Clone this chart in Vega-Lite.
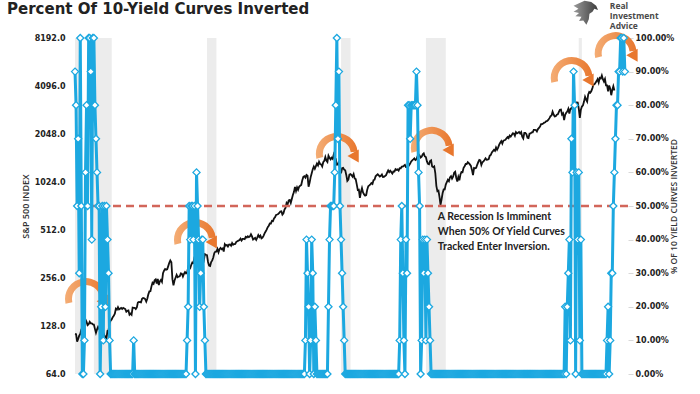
{
"$schema": "https://vega.github.io/schema/vega-lite/v6.json",
"width": 558, "height": 336,
"autosize": {"type": "none"},
"padding": {"left": 70, "top": 38, "right": 72, "bottom": 20},
"background": "white",
"config": {"view": {"stroke": null}},
"datasets": {
"m": [
{"t":1980,"s":114.2,"p":90},{"t":1980.083,"s":113.7,"p":80},{"t":1980.167,"s":102.1,"p":50},{"t":1980.25,"s":106.3,"p":70},{"t":1980.333,"s":111.2,"p":30},{"t":1980.417,"s":114.2,"p":100},{"t":1980.5,"s":121.7,"p":50},{"t":1980.583,"s":122.4,"p":0},{"t":1980.667,"s":125.5,"p":0},{"t":1980.75,"s":127.5,"p":10},{"t":1980.833,"s":140.5,"p":60},{"t":1980.917,"s":135.8,"p":80},
{"t":1981,"s":129.6,"p":50},{"t":1981.083,"s":131.3,"p":100},{"t":1981.167,"s":136.0,"p":100},{"t":1981.25,"s":133.0,"p":90},{"t":1981.333,"s":133.0,"p":40},{"t":1981.417,"s":131.2,"p":100},{"t":1981.5,"s":130.9,"p":100},{"t":1981.583,"s":122.8,"p":80},{"t":1981.667,"s":116.2,"p":70},{"t":1981.75,"s":121.9,"p":60},{"t":1981.833,"s":126.4,"p":50},{"t":1981.917,"s":122.6,"p":50},
{"t":1982,"s":120.4,"p":0},{"t":1982.083,"s":113.1,"p":20},{"t":1982.167,"s":112.0,"p":50},{"t":1982.25,"s":116.4,"p":10},{"t":1982.333,"s":111.9,"p":50},{"t":1982.417,"s":109.6,"p":20},{"t":1982.5,"s":107.1,"p":50},{"t":1982.583,"s":119.5,"p":40},{"t":1982.667,"s":120.4,"p":30},{"t":1982.75,"s":133.7,"p":10},{"t":1982.833,"s":138.5,"p":0},{"t":1982.917,"s":140.6,"p":0},
{"t":1983,"s":145.3,"p":0},{"t":1983.083,"s":148.1,"p":0},{"t":1983.167,"s":153.0,"p":0},{"t":1983.25,"s":164.4,"p":0},{"t":1983.333,"s":162.4,"p":0},{"t":1983.417,"s":168.1,"p":0},{"t":1983.5,"s":162.6,"p":0},{"t":1983.583,"s":164.4,"p":0},{"t":1983.667,"s":166.1,"p":0},{"t":1983.75,"s":163.6,"p":0},{"t":1983.833,"s":166.4,"p":0},{"t":1983.917,"s":164.9,"p":0},
{"t":1984,"s":163.4,"p":0},{"t":1984.083,"s":157.1,"p":0},{"t":1984.167,"s":159.2,"p":0},{"t":1984.25,"s":160.1,"p":0},{"t":1984.333,"s":150.6,"p":0},{"t":1984.417,"s":153.2,"p":0},{"t":1984.5,"s":150.7,"p":0},{"t":1984.583,"s":166.7,"p":0},{"t":1984.667,"s":166.1,"p":10},{"t":1984.75,"s":166.1,"p":0},{"t":1984.833,"s":163.6,"p":0},{"t":1984.917,"s":167.2,"p":0},
{"t":1985,"s":179.6,"p":0},{"t":1985.083,"s":181.2,"p":0},{"t":1985.167,"s":180.7,"p":0},{"t":1985.25,"s":179.8,"p":0},{"t":1985.333,"s":189.6,"p":0},{"t":1985.417,"s":191.9,"p":0},{"t":1985.5,"s":190.9,"p":0},{"t":1985.583,"s":188.6,"p":0},{"t":1985.667,"s":182.1,"p":0},{"t":1985.75,"s":189.8,"p":0},{"t":1985.833,"s":202.2,"p":0},{"t":1985.917,"s":211.3,"p":0},
{"t":1986,"s":211.8,"p":0},{"t":1986.083,"s":226.9,"p":0},{"t":1986.167,"s":238.9,"p":0},{"t":1986.25,"s":235.5,"p":0},{"t":1986.333,"s":247.4,"p":0},{"t":1986.417,"s":250.8,"p":0},{"t":1986.5,"s":236.1,"p":0},{"t":1986.583,"s":252.9,"p":0},{"t":1986.667,"s":231.3,"p":0},{"t":1986.75,"s":244.0,"p":0},{"t":1986.833,"s":249.2,"p":0},{"t":1986.917,"s":242.2,"p":0},
{"t":1987,"s":274.1,"p":0},{"t":1987.083,"s":284.2,"p":0},{"t":1987.167,"s":291.7,"p":0},{"t":1987.25,"s":288.4,"p":0},{"t":1987.333,"s":290.1,"p":0},{"t":1987.417,"s":304.0,"p":0},{"t":1987.5,"s":318.7,"p":0},{"t":1987.583,"s":329.8,"p":0},{"t":1987.667,"s":321.8,"p":0},{"t":1987.75,"s":251.8,"p":0},{"t":1987.833,"s":230.3,"p":0},{"t":1987.917,"s":247.1,"p":0},
{"t":1988,"s":257.1,"p":0},{"t":1988.083,"s":267.8,"p":0},{"t":1988.167,"s":258.9,"p":0},{"t":1988.25,"s":261.3,"p":0},{"t":1988.333,"s":262.2,"p":0},{"t":1988.417,"s":273.5,"p":0},{"t":1988.5,"s":272.0,"p":0},{"t":1988.583,"s":261.5,"p":0},{"t":1988.667,"s":271.9,"p":0},{"t":1988.75,"s":279.0,"p":0},{"t":1988.833,"s":273.7,"p":0},{"t":1988.917,"s":277.7,"p":10},
{"t":1989,"s":297.5,"p":20},{"t":1989.083,"s":288.9,"p":50},{"t":1989.167,"s":294.9,"p":40},{"t":1989.25,"s":309.6,"p":50},{"t":1989.333,"s":320.5,"p":50},{"t":1989.417,"s":318.0,"p":40},{"t":1989.5,"s":346.1,"p":50},{"t":1989.583,"s":351.5,"p":0},{"t":1989.667,"s":349.2,"p":60},{"t":1989.75,"s":340.4,"p":50},{"t":1989.833,"s":346.0,"p":40},{"t":1989.917,"s":353.4,"p":20},
{"t":1990,"s":329.1,"p":30},{"t":1990.083,"s":331.9,"p":40},{"t":1990.167,"s":339.9,"p":40},{"t":1990.25,"s":330.8,"p":20},{"t":1990.333,"s":361.2,"p":10},{"t":1990.417,"s":358.0,"p":0},{"t":1990.5,"s":356.2,"p":0},{"t":1990.583,"s":322.6,"p":0},{"t":1990.667,"s":306.1,"p":0},{"t":1990.75,"s":304.0,"p":0},{"t":1990.833,"s":322.2,"p":0},{"t":1990.917,"s":330.2,"p":0},
{"t":1991,"s":343.9,"p":0},{"t":1991.083,"s":367.1,"p":0},{"t":1991.167,"s":375.2,"p":0},{"t":1991.25,"s":375.3,"p":0},{"t":1991.333,"s":389.8,"p":0},{"t":1991.417,"s":371.2,"p":0},{"t":1991.5,"s":387.8,"p":0},{"t":1991.583,"s":395.4,"p":0},{"t":1991.667,"s":387.9,"p":0},{"t":1991.75,"s":392.5,"p":0},{"t":1991.833,"s":375.2,"p":0},{"t":1991.917,"s":417.1,"p":0},
{"t":1992,"s":408.8,"p":0},{"t":1992.083,"s":412.7,"p":0},{"t":1992.167,"s":403.7,"p":0},{"t":1992.25,"s":415.0,"p":0},{"t":1992.333,"s":415.4,"p":0},{"t":1992.417,"s":408.1,"p":0},{"t":1992.5,"s":424.2,"p":0},{"t":1992.583,"s":414.0,"p":0},{"t":1992.667,"s":417.8,"p":0},{"t":1992.75,"s":418.7,"p":0},{"t":1992.833,"s":431.4,"p":0},{"t":1992.917,"s":435.7,"p":0},
{"t":1993,"s":438.8,"p":0},{"t":1993.083,"s":443.4,"p":0},{"t":1993.167,"s":451.7,"p":0},{"t":1993.25,"s":440.2,"p":0},{"t":1993.333,"s":450.2,"p":0},{"t":1993.417,"s":450.5,"p":0},{"t":1993.5,"s":448.1,"p":0},{"t":1993.583,"s":463.6,"p":0},{"t":1993.667,"s":458.9,"p":0},{"t":1993.75,"s":467.8,"p":0},{"t":1993.833,"s":461.8,"p":0},{"t":1993.917,"s":466.5,"p":0},
{"t":1994,"s":481.6,"p":0},{"t":1994.083,"s":467.1,"p":0},{"t":1994.167,"s":445.8,"p":0},{"t":1994.25,"s":450.9,"p":0},{"t":1994.333,"s":456.5,"p":0},{"t":1994.417,"s":444.3,"p":0},{"t":1994.5,"s":458.3,"p":0},{"t":1994.583,"s":475.5,"p":0},{"t":1994.667,"s":462.7,"p":0},{"t":1994.75,"s":472.4,"p":0},{"t":1994.833,"s":453.7,"p":0},{"t":1994.917,"s":459.3,"p":0},
{"t":1995,"s":470.4,"p":0},{"t":1995.083,"s":487.4,"p":0},{"t":1995.167,"s":500.7,"p":0},{"t":1995.25,"s":514.7,"p":0},{"t":1995.333,"s":533.4,"p":0},{"t":1995.417,"s":544.8,"p":0},{"t":1995.5,"s":562.1,"p":0},{"t":1995.583,"s":561.9,"p":0},{"t":1995.667,"s":584.4,"p":0},{"t":1995.75,"s":581.5,"p":0},{"t":1995.833,"s":605.4,"p":0},{"t":1995.917,"s":615.9,"p":0},
{"t":1996,"s":636.0,"p":0},{"t":1996.083,"s":640.4,"p":0},{"t":1996.167,"s":645.5,"p":0},{"t":1996.25,"s":654.2,"p":0},{"t":1996.333,"s":669.1,"p":0},{"t":1996.417,"s":670.6,"p":0},{"t":1996.5,"s":640.0,"p":0},{"t":1996.583,"s":652.0,"p":0},{"t":1996.667,"s":687.3,"p":0},{"t":1996.75,"s":705.3,"p":0},{"t":1996.833,"s":757.0,"p":0},{"t":1996.917,"s":740.7,"p":0},
{"t":1997,"s":786.2,"p":0},{"t":1997.083,"s":790.8,"p":0},{"t":1997.167,"s":757.1,"p":0},{"t":1997.25,"s":801.3,"p":0},{"t":1997.333,"s":848.3,"p":0},{"t":1997.417,"s":885.1,"p":0},{"t":1997.5,"s":954.3,"p":0},{"t":1997.583,"s":899.5,"p":0},{"t":1997.667,"s":947.3,"p":0},{"t":1997.75,"s":914.6,"p":0},{"t":1997.833,"s":955.4,"p":0},{"t":1997.917,"s":970.4,"p":0},
{"t":1998,"s":980.3,"p":0},{"t":1998.083,"s":1049.3,"p":0},{"t":1998.167,"s":1101.8,"p":0},{"t":1998.25,"s":1111.8,"p":0},{"t":1998.333,"s":1090.8,"p":10},{"t":1998.417,"s":1133.8,"p":40},{"t":1998.5,"s":1120.7,"p":30},{"t":1998.583,"s":957.3,"p":20},{"t":1998.667,"s":1017.0,"p":0},{"t":1998.75,"s":1098.7,"p":10},{"t":1998.833,"s":1163.6,"p":40},{"t":1998.917,"s":1229.2,"p":30},
{"t":1999,"s":1279.6,"p":0},{"t":1999.083,"s":1238.3,"p":20},{"t":1999.167,"s":1286.4,"p":10},{"t":1999.25,"s":1335.2,"p":0},{"t":1999.333,"s":1301.8,"p":0},{"t":1999.417,"s":1372.7,"p":0},{"t":1999.5,"s":1328.7,"p":0},{"t":1999.583,"s":1320.4,"p":0},{"t":1999.667,"s":1282.7,"p":0},{"t":1999.75,"s":1362.9,"p":0},{"t":1999.833,"s":1388.9,"p":0},{"t":1999.917,"s":1469.3,"p":0},
{"t":2000,"s":1394.5,"p":0},{"t":2000.083,"s":1366.4,"p":0},{"t":2000.167,"s":1498.6,"p":20},{"t":2000.25,"s":1452.4,"p":40},{"t":2000.333,"s":1420.6,"p":50},{"t":2000.417,"s":1454.6,"p":50},{"t":2000.5,"s":1430.8,"p":50},{"t":2000.583,"s":1517.7,"p":50},{"t":2000.667,"s":1436.5,"p":60},{"t":2000.75,"s":1429.4,"p":80},{"t":2000.833,"s":1315.2,"p":100},{"t":2000.917,"s":1320.3,"p":70},
{"t":2001,"s":1366.0,"p":90},{"t":2001.083,"s":1239.9,"p":50},{"t":2001.167,"s":1160.3,"p":40},{"t":2001.25,"s":1249.5,"p":30},{"t":2001.333,"s":1255.8,"p":20},{"t":2001.417,"s":1224.4,"p":10},{"t":2001.5,"s":1211.2,"p":0},{"t":2001.583,"s":1133.6,"p":0},{"t":2001.667,"s":1040.9,"p":0},{"t":2001.75,"s":1059.8,"p":0},{"t":2001.833,"s":1139.5,"p":0},{"t":2001.917,"s":1148.1,"p":0},
{"t":2002,"s":1130.2,"p":0},{"t":2002.083,"s":1106.7,"p":0},{"t":2002.167,"s":1147.4,"p":0},{"t":2002.25,"s":1076.9,"p":0},{"t":2002.333,"s":1067.1,"p":0},{"t":2002.417,"s":989.8,"p":0},{"t":2002.5,"s":911.6,"p":0},{"t":2002.583,"s":916.1,"p":0},{"t":2002.667,"s":815.3,"p":0},{"t":2002.75,"s":885.8,"p":0},{"t":2002.833,"s":936.3,"p":0},{"t":2002.917,"s":879.8,"p":0},
{"t":2003,"s":855.7,"p":0},{"t":2003.083,"s":841.2,"p":0},{"t":2003.167,"s":848.2,"p":0},{"t":2003.25,"s":916.9,"p":0},{"t":2003.333,"s":963.6,"p":0},{"t":2003.417,"s":974.5,"p":0},{"t":2003.5,"s":990.3,"p":0},{"t":2003.583,"s":1008.0,"p":0},{"t":2003.667,"s":996.0,"p":0},{"t":2003.75,"s":1050.7,"p":0},{"t":2003.833,"s":1058.2,"p":0},{"t":2003.917,"s":1111.9,"p":0},
{"t":2004,"s":1131.1,"p":0},{"t":2004.083,"s":1144.9,"p":0},{"t":2004.167,"s":1126.2,"p":0},{"t":2004.25,"s":1107.3,"p":0},{"t":2004.333,"s":1120.7,"p":0},{"t":2004.417,"s":1140.8,"p":0},{"t":2004.5,"s":1101.7,"p":0},{"t":2004.583,"s":1104.2,"p":0},{"t":2004.667,"s":1114.6,"p":0},{"t":2004.75,"s":1130.2,"p":0},{"t":2004.833,"s":1173.8,"p":0},{"t":2004.917,"s":1211.9,"p":0},
{"t":2005,"s":1181.3,"p":0},{"t":2005.083,"s":1203.6,"p":0},{"t":2005.167,"s":1180.6,"p":0},{"t":2005.25,"s":1156.9,"p":0},{"t":2005.333,"s":1191.5,"p":0},{"t":2005.417,"s":1191.3,"p":0},{"t":2005.5,"s":1234.2,"p":0},{"t":2005.583,"s":1220.3,"p":0},{"t":2005.667,"s":1228.8,"p":0},{"t":2005.75,"s":1207.0,"p":0},{"t":2005.833,"s":1249.5,"p":10},{"t":2005.917,"s":1248.3,"p":40},
{"t":2006,"s":1280.1,"p":50},{"t":2006.083,"s":1280.7,"p":30},{"t":2006.167,"s":1294.9,"p":10},{"t":2006.25,"s":1310.6,"p":0},{"t":2006.333,"s":1270.1,"p":40},{"t":2006.417,"s":1270.2,"p":30},{"t":2006.5,"s":1276.7,"p":80},{"t":2006.583,"s":1303.8,"p":80},{"t":2006.667,"s":1335.9,"p":70},{"t":2006.75,"s":1377.9,"p":80},{"t":2006.833,"s":1400.6,"p":80},{"t":2006.917,"s":1418.3,"p":80},
{"t":2007,"s":1438.2,"p":80},{"t":2007.083,"s":1406.8,"p":80},{"t":2007.167,"s":1420.9,"p":90},{"t":2007.25,"s":1482.4,"p":80},{"t":2007.333,"s":1530.6,"p":60},{"t":2007.417,"s":1503.4,"p":50},{"t":2007.5,"s":1455.3,"p":0},{"t":2007.583,"s":1474.0,"p":10},{"t":2007.667,"s":1526.8,"p":40},{"t":2007.75,"s":1549.4,"p":30},{"t":2007.833,"s":1481.1,"p":40},{"t":2007.917,"s":1468.4,"p":10},
{"t":2008,"s":1378.6,"p":40},{"t":2008.083,"s":1330.6,"p":30},{"t":2008.167,"s":1322.7,"p":20},{"t":2008.25,"s":1385.6,"p":10},{"t":2008.333,"s":1400.4,"p":0},{"t":2008.417,"s":1280.0,"p":0},{"t":2008.5,"s":1267.4,"p":0},{"t":2008.583,"s":1282.8,"p":0},{"t":2008.667,"s":1166.4,"p":0},{"t":2008.75,"s":968.8,"p":0},{"t":2008.833,"s":896.2,"p":0},{"t":2008.917,"s":903.3,"p":0},
{"t":2009,"s":825.9,"p":0},{"t":2009.083,"s":735.1,"p":0},{"t":2009.167,"s":797.9,"p":0},{"t":2009.25,"s":872.8,"p":0},{"t":2009.333,"s":919.1,"p":0},{"t":2009.417,"s":919.3,"p":0},{"t":2009.5,"s":987.5,"p":0},{"t":2009.583,"s":1020.6,"p":0},{"t":2009.667,"s":1057.1,"p":0},{"t":2009.75,"s":1036.2,"p":0},{"t":2009.833,"s":1095.6,"p":0},{"t":2009.917,"s":1115.1,"p":0},
{"t":2010,"s":1073.9,"p":0},{"t":2010.083,"s":1104.5,"p":0},{"t":2010.167,"s":1169.4,"p":0},{"t":2010.25,"s":1186.7,"p":0},{"t":2010.333,"s":1089.4,"p":0},{"t":2010.417,"s":1030.7,"p":0},{"t":2010.5,"s":1101.6,"p":0},{"t":2010.583,"s":1049.3,"p":0},{"t":2010.667,"s":1141.2,"p":0},{"t":2010.75,"s":1183.3,"p":0},{"t":2010.833,"s":1180.6,"p":0},{"t":2010.917,"s":1257.6,"p":0},
{"t":2011,"s":1286.1,"p":0},{"t":2011.083,"s":1327.2,"p":0},{"t":2011.167,"s":1325.8,"p":0},{"t":2011.25,"s":1363.6,"p":0},{"t":2011.333,"s":1345.2,"p":0},{"t":2011.417,"s":1320.6,"p":0},{"t":2011.5,"s":1292.3,"p":0},{"t":2011.583,"s":1218.9,"p":0},{"t":2011.667,"s":1131.4,"p":0},{"t":2011.75,"s":1253.3,"p":0},{"t":2011.833,"s":1247.0,"p":0},{"t":2011.917,"s":1257.6,"p":0},
{"t":2012,"s":1312.4,"p":0},{"t":2012.083,"s":1365.7,"p":0},{"t":2012.167,"s":1408.5,"p":0},{"t":2012.25,"s":1397.9,"p":0},{"t":2012.333,"s":1310.3,"p":0},{"t":2012.417,"s":1362.2,"p":0},{"t":2012.5,"s":1379.3,"p":0},{"t":2012.583,"s":1406.6,"p":0},{"t":2012.667,"s":1440.7,"p":0},{"t":2012.75,"s":1412.2,"p":0},{"t":2012.833,"s":1416.2,"p":0},{"t":2012.917,"s":1426.2,"p":0},
{"t":2013,"s":1498.1,"p":0},{"t":2013.083,"s":1514.7,"p":0},{"t":2013.167,"s":1569.2,"p":0},{"t":2013.25,"s":1597.6,"p":0},{"t":2013.333,"s":1630.7,"p":0},{"t":2013.417,"s":1606.3,"p":0},{"t":2013.5,"s":1685.7,"p":0},{"t":2013.583,"s":1633.0,"p":0},{"t":2013.667,"s":1681.6,"p":0},{"t":2013.75,"s":1756.5,"p":0},{"t":2013.833,"s":1805.8,"p":0},{"t":2013.917,"s":1848.4,"p":0},
{"t":2014,"s":1782.6,"p":0},{"t":2014.083,"s":1859.5,"p":0},{"t":2014.167,"s":1872.3,"p":0},{"t":2014.25,"s":1884.0,"p":0},{"t":2014.333,"s":1923.6,"p":0},{"t":2014.417,"s":1960.2,"p":0},{"t":2014.5,"s":1930.7,"p":0},{"t":2014.583,"s":2003.4,"p":0},{"t":2014.667,"s":1972.3,"p":0},{"t":2014.75,"s":2018.1,"p":0},{"t":2014.833,"s":2067.6,"p":0},{"t":2014.917,"s":2058.9,"p":0},
{"t":2015,"s":1995.0,"p":0},{"t":2015.083,"s":2104.5,"p":0},{"t":2015.167,"s":2067.9,"p":0},{"t":2015.25,"s":2085.5,"p":0},{"t":2015.333,"s":2107.4,"p":0},{"t":2015.417,"s":2063.1,"p":0},{"t":2015.5,"s":2103.8,"p":0},{"t":2015.583,"s":1972.2,"p":0},{"t":2015.667,"s":1920.0,"p":0},{"t":2015.75,"s":2079.4,"p":0},{"t":2015.833,"s":2080.4,"p":0},{"t":2015.917,"s":2043.9,"p":0},
{"t":2016,"s":1940.2,"p":0},{"t":2016.083,"s":1932.2,"p":0},{"t":2016.167,"s":2059.7,"p":0},{"t":2016.25,"s":2065.3,"p":0},{"t":2016.333,"s":2097.0,"p":0},{"t":2016.417,"s":2098.9,"p":0},{"t":2016.5,"s":2173.6,"p":0},{"t":2016.583,"s":2171.0,"p":0},{"t":2016.667,"s":2168.3,"p":0},{"t":2016.75,"s":2126.2,"p":0},{"t":2016.833,"s":2199.0,"p":0},{"t":2016.917,"s":2238.8,"p":0},
{"t":2017,"s":2278.9,"p":0},{"t":2017.083,"s":2363.6,"p":0},{"t":2017.167,"s":2362.7,"p":0},{"t":2017.25,"s":2384.2,"p":0},{"t":2017.333,"s":2411.8,"p":0},{"t":2017.417,"s":2423.4,"p":0},{"t":2017.5,"s":2470.3,"p":0},{"t":2017.583,"s":2471.7,"p":0},{"t":2017.667,"s":2519.4,"p":0},{"t":2017.75,"s":2575.3,"p":0},{"t":2017.833,"s":2647.6,"p":0},{"t":2017.917,"s":2673.6,"p":0},
{"t":2018,"s":2823.8,"p":0},{"t":2018.083,"s":2713.8,"p":0},{"t":2018.167,"s":2640.9,"p":0},{"t":2018.25,"s":2648.1,"p":0},{"t":2018.333,"s":2705.3,"p":0},{"t":2018.417,"s":2718.4,"p":0},{"t":2018.5,"s":2816.3,"p":0},{"t":2018.583,"s":2901.5,"p":0},{"t":2018.667,"s":2914.0,"p":0},{"t":2018.75,"s":2711.7,"p":0},{"t":2018.833,"s":2760.2,"p":0},{"t":2018.917,"s":2506.9,"p":0},
{"t":2019,"s":2704.1,"p":20},{"t":2019.083,"s":2784.5,"p":0},{"t":2019.167,"s":2834.4,"p":20},{"t":2019.25,"s":2945.8,"p":30},{"t":2019.333,"s":2752.1,"p":40},{"t":2019.417,"s":2941.8,"p":10},{"t":2019.5,"s":2980.4,"p":70},{"t":2019.583,"s":2926.5,"p":60},{"t":2019.667,"s":2976.7,"p":90},{"t":2019.75,"s":3037.6,"p":80},{"t":2019.833,"s":3141.0,"p":0},{"t":2019.917,"s":3230.8,"p":60},
{"t":2020,"s":3225.5,"p":40},{"t":2020.083,"s":2954.2,"p":60},{"t":2020.167,"s":2584.6,"p":10},{"t":2020.25,"s":2912.4,"p":40},{"t":2020.333,"s":3044.3,"p":0},{"t":2020.417,"s":3100.3,"p":0},{"t":2020.5,"s":3271.1,"p":0},{"t":2020.583,"s":3500.3,"p":0},{"t":2020.667,"s":3363.0,"p":0},{"t":2020.75,"s":3270.0,"p":0},{"t":2020.833,"s":3621.6,"p":0},{"t":2020.917,"s":3756.1,"p":0},
{"t":2021,"s":3714.2,"p":0},{"t":2021.083,"s":3811.2,"p":0},{"t":2021.167,"s":3972.9,"p":0},{"t":2021.25,"s":4181.2,"p":0},{"t":2021.333,"s":4204.1,"p":0},{"t":2021.417,"s":4297.5,"p":0},{"t":2021.5,"s":4395.3,"p":0},{"t":2021.583,"s":4522.7,"p":0},{"t":2021.667,"s":4307.5,"p":0},{"t":2021.75,"s":4605.4,"p":0},{"t":2021.833,"s":4567.0,"p":0},{"t":2021.917,"s":4766.2,"p":0},
{"t":2022,"s":4515.6,"p":0},{"t":2022.083,"s":4373.9,"p":0},{"t":2022.167,"s":4530.4,"p":0},{"t":2022.25,"s":4131.9,"p":0},{"t":2022.333,"s":4132.2,"p":10},{"t":2022.417,"s":3785.4,"p":20},{"t":2022.5,"s":4130.3,"p":0},{"t":2022.583,"s":3955.0,"p":10},{"t":2022.667,"s":3585.6,"p":30},{"t":2022.75,"s":3872.0,"p":30},{"t":2022.833,"s":4080.1,"p":50},{"t":2022.917,"s":3839.5,"p":60},
{"t":2023,"p":70},{"t":2023.083,"p":80},{"t":2023.167,"p":80},{"t":2023.25,"p":90},{"t":2023.333,"p":90},{"t":2023.417,"p":100},{"t":2023.5,"p":100},{"t":2023.583,"p":90},{"t":2023.667,"p":100},{"t":2023.75,"p":90}
],
"rec": [
{"t":1980.0,"t2":1980.5},{"t":1981.5,"t2":1982.92},{"t":1990.5,"t2":1991.25},{"t":2001.17,"t2":2001.92},{"t":2007.92,"t2":2009.5},{"t":2020.08,"t2":2020.33}
],
"arc": [
{"t":1980.87,"p":22.3},{"t":1989.54,"p":39.9},{"t":2000.83,"p":65.5},{"t":2008.39,"p":67.3},{"t":2019.52,"p":88.1},{"t":2023.02,"p":95.5}
],
"head": [
{"t":1982.39,"p":21.2},{"t":1991.06,"p":38.8},{"t":2002.35,"p":64.4},{"t":2009.91,"p":66.2},{"t":2021.04,"p":87.0},{"t":2024.54,"p":94.4}
],
"note": [
{"t":2008.87,"p":46.8,"label":"A Recession Is Imminent"},
{"t":2008.87,"p":42.4,"label":"When 50% Of Yield Curves"},
{"t":2008.87,"p":37.9,"label":"Tracked Enter Inversion."}
],
"heading": [
{"t":1974.59,"p":107.14,"label":"Percent Of 10-Yield Curves Inverted"}
],
"logo": [
{"t":2022.55,"p":109.4,"label":"Real"},
{"t":2022.55,"p":106.5,"label":"Investment"},
{"t":2022.55,"p":103.6,"label":"Advice"}
],
"eagle": [
{"t":2020.64,"p":107.6}
]
},
"layer": [
{
"data": {"name": "rec"},
"mark": {"type": "rect", "color": "#ececec"},
"encoding": {
"x": {"field": "t", "type": "quantitative", "scale": {"domain": [1979.6, 2024.0], "nice": false, "zero": false}, "axis": null},
"x2": {"field": "t2"}
}
},
{
"data": {"name": "m"},
"mark": {"type": "line", "color": "#111111", "strokeWidth": 1.8},
"encoding": {
"x": {"field": "t", "type": "quantitative", "scale": {"domain": [1979.6, 2024.0], "nice": false, "zero": false},
"axis": {"title": null, "values": [1980,1984,1988,1992,1996,2000,2004,2008,2012,2016,2020], "format": "d", "domain": false, "ticks": false, "grid": false, "labelFont": "DejaVu Sans", "labelFontWeight": "bold", "labelFontSize": 9, "labelColor": "#222", "labelPadding": 7}},
"y": {"field": "s", "type": "quantitative", "scale": {"type": "log", "base": 2, "domain": [64, 8192], "nice": false},
"axis": {"orient": "left", "values": [64,128,256,512,1024,2048,4096,8192], "format": ".1f", "domain": false, "ticks": false, "grid": false, "labelFont": "DejaVu Sans", "labelFontWeight": "bold", "labelFontSize": 8, "labelColor": "#222", "labelPadding": 5, "title": "S&P 500 INDEX", "titleFont": "Open Sans", "titleFontSize": 9, "titleFontWeight": 600, "titleColor": "#333", "titlePadding": 4}}
}
},
{
"data": {"values": [{}]},
"mark": {"type": "rule", "color": "#d2665a", "strokeWidth": 2.5, "strokeDash": [8, 5]},
"encoding": {"y": {"datum": 50, "type": "quantitative", "scale": {"domain": [0, 100], "nice": false}, "axis": null}}
},
{
"data": {"name": "arc"},
"mark": {"type": "arc", "radius": 21, "radius2": 14, "theta": -1.8, "theta2": 1.45, "color": {"gradient": "linear", "stops": [{"offset": 0, "color": "#f4ad75"}, {"offset": 1, "color": "#e8772e"}]}},
"encoding": {
"x": {"field": "t", "type": "quantitative", "axis": null},
"y": {"field": "p", "type": "quantitative", "scale": {"domain": [0, 100], "nice": false}, "axis": null}
}
},
{
"data": {"name": "head"},
"mark": {"type": "point", "shape": "triangle-down", "filled": true, "size": 170, "angle": -30, "color": "#e8772e", "opacity": 1},
"encoding": {
"x": {"field": "t", "type": "quantitative", "axis": null},
"y": {"field": "p", "type": "quantitative", "scale": {"domain": [0, 100], "nice": false}, "axis": null}
}
},
{
"data": {"name": "m"},
"mark": {"type": "line", "color": "#1ca8e0", "strokeWidth": 3},
"encoding": {
"x": {"field": "t", "type": "quantitative", "axis": null},
"y": {"field": "p", "type": "quantitative", "scale": {"domain": [0, 100], "nice": false},
"axis": {"orient": "right", "values": [0,10,20,30,40,50,60,70,80,90,100], "labelExpr": "format(datum.value, '.2f') + '%'", "domain": false, "ticks": true, "tickColor": "#d9d9d9", "tickSize": 5, "grid": false, "labelFont": "DejaVu Sans", "labelFontWeight": "bold", "labelFontSize": 8, "labelColor": "#222", "labelPadding": 2, "title": "% OF 10 YIELD CURVES INVERTED", "titleAngle": 270, "titleFont": "Open Sans", "titleFontSize": 8.5, "titleFontWeight": 600, "titleColor": "#333", "titlePadding": 5}}
}
},
{
"data": {"name": "m"},
"mark": {"type": "point", "shape": "diamond", "filled": true, "fill": "white", "stroke": "#1ca8e0", "strokeWidth": 1.3, "size": 50, "opacity": 1},
"encoding": {
"x": {"field": "t", "type": "quantitative", "axis": null},
"y": {"field": "p", "type": "quantitative", "scale": {"domain": [0, 100], "nice": false}, "axis": null}
}
},
{
"data": {"name": "note"},
"mark": {"type": "text", "align": "left", "baseline": "middle", "font": "Lato", "fontWeight": "bold", "fontSize": 10.5, "color": "#222"},
"encoding": {
"x": {"field": "t", "type": "quantitative", "axis": null},
"y": {"field": "p", "type": "quantitative", "scale": {"domain": [0, 100], "nice": false}, "axis": null},
"text": {"field": "label"}
}
},
{
"data": {"name": "heading"},
"mark": {"type": "text", "align": "left", "baseline": "alphabetic", "font": "DejaVu Sans", "fontWeight": "bold", "fontSize": 15, "color": "#222"},
"encoding": {
"x": {"field": "t", "type": "quantitative", "axis": null},
"y": {"field": "p", "type": "quantitative", "scale": {"domain": [0, 100], "nice": false}, "axis": null},
"text": {"field": "label"}
}
},
{
"data": {"name": "logo"},
"mark": {"type": "text", "align": "left", "baseline": "middle", "font": "Open Sans", "fontWeight": "bold", "fontSize": 8.5, "color": "#4a4a4a"},
"encoding": {
"x": {"field": "t", "type": "quantitative", "axis": null},
"y": {"field": "p", "type": "quantitative", "scale": {"domain": [0, 100], "nice": false}, "axis": null},
"text": {"field": "label"}
}
},
{
"data": {"name": "eagle"},
"mark": {"type": "point", "filled": true, "size": 600, "color": {"gradient": "linear", "stops": [{"offset": 0, "color": "#9a9a9a"}, {"offset": 1, "color": "#3c3c3c"}]}, "opacity": 1,
"shape": "M-1,-0.55 L-0.1,-0.95 L0.45,-0.85 L0.85,-0.55 L1,-0.2 L0.7,-0.3 L0.55,-0.05 L0.3,0.1 L0.25,0.55 L0.05,1 L-0.2,0.65 L-0.55,0.7 L-0.35,0.35 L-0.85,0.3 L-0.55,0.05 L-1,-0.05 L-0.6,-0.3 Z"},
"encoding": {
"x": {"field": "t", "type": "quantitative", "axis": null},
"y": {"field": "p", "type": "quantitative", "scale": {"domain": [0, 100], "nice": false}, "axis": null}
}
}
],
"resolve": {"scale": {"y": "independent"}, "axis": {"y": "independent"}}
}
